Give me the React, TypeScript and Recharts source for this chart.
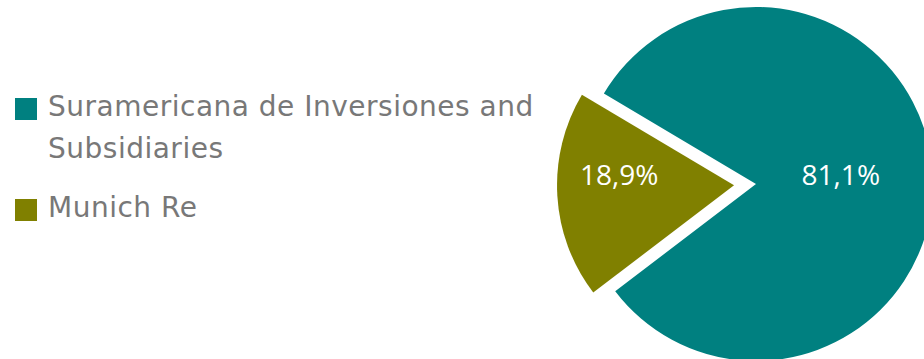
import { PieChart, Pie, Cell, Legend, Sector } from 'recharts';

const categories = ['Suramericana de Inversiones and Subsidiaries', 'Munich Re'];
const shares = [81.1, 18.9];
const colors = ['#008080', '#808000'];

const RADIAN = Math.PI / 180;
const EXPLODE = 22;

const data = categories.map((name, i) => ({ name, value: shares[i] }));

// push the small slice out along its mid angle
const renderShape = (props: any) => {
  const off = props.index === 1 ? EXPLODE : 0;
  const dx = off * Math.cos(-props.midAngle * RADIAN);
  const dy = off * Math.sin(-props.midAngle * RADIAN);
  return <Sector {...props} cx={props.cx + dx} cy={props.cy + dy} stroke="none" />;
};

const renderLabel = ({ cx, cy, midAngle, outerRadius, percent, index }: any) => {
  const off = index === 1 ? EXPLODE : 0;
  const frac = index === 1 ? 0.65 : 0.48;
  const x = cx + (off + outerRadius * frac) * Math.cos(-midAngle * RADIAN);
  return (
    <text
      x={x}
      y={cy - 10}
      fill="#fff"
      textAnchor="middle"
      dominantBaseline="central"
      style={{ fontFamily: 'Open Sans', fontSize: 28 }}
    >
      {(percent * 100).toFixed(1).replace('.', ',')}%
    </text>
  );
};

const LegendContent = () => (
  <ul
    style={{
      listStyle: 'none',
      margin: 0,
      padding: 0,
      fontFamily: 'DejaVu Sans',
      fontSize: 28,
      lineHeight: '42px',
      letterSpacing: 0.5,
      color: '#787878',
    }}
  >
    {categories.map((name, i) => (
      <li key={name} style={{ position: 'relative', paddingLeft: 33, marginBottom: 17 }}>
        <span
          style={{
            position: 'absolute',
            left: 0,
            top: 12,
            width: 22,
            height: 22,
            background: colors[i],
          }}
        />
        {name}
      </li>
    ))}
  </ul>
);

export default function App() {
  return (
    <div style={{ position: 'absolute', left: 0, top: 0, width: 924, height: 359, background: '#fff' }}>
      <PieChart width={924} height={359} margin={{ top: 0, right: 0, bottom: 0, left: 0 }}>
        <Legend
          content={<LegendContent />}
          wrapperStyle={{ top: 86, left: 15, width: 530 }}
        />
        <Pie
          data={data}
          dataKey="value"
          nameKey="name"
          cx={756}
          cy={184}
          outerRadius={177}
          startAngle={217.3}
          endAngle={577.3}
          stroke="none"
          shape={renderShape}
          label={renderLabel}
          labelLine={false}
          isAnimationActive={false}
        >
          {data.map((d, i) => (
            <Cell key={d.name} fill={colors[i]} />
          ))}
        </Pie>
      </PieChart>
    </div>
  );
}
